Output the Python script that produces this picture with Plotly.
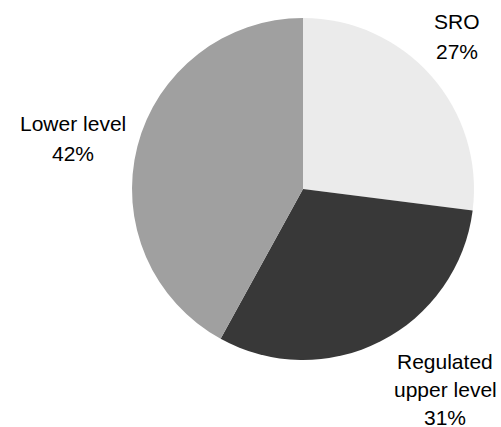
import plotly.graph_objects as go

categories = ["SRO", "Regulated upper level", "Lower level"]
values = [27, 31, 42]
colors = ["#ebebeb", "#383838", "#a0a0a0"]
label_lines = [["SRO"], ["Regulated", "upper level"], ["Lower level"]]
# label anchor (center x, first-line center y) in pixels
label_pos = [(457, 21), (445, 361), (73, 123)]
line_gap = [30, 28, 31]

W, H = 501, 427
cx, cy, r = 303, 189, 171

fig = go.Figure(go.Pie(
    labels=categories,
    values=values,
    sort=False,
    direction="clockwise",
    rotation=0,
    marker=dict(colors=colors, line=dict(width=0)),
    textinfo="none",
    hoverinfo="label+percent",
    showlegend=False,
    domain=dict(x=[(cx - r) / W, (cx + r) / W], y=[1 - (cy + r) / H, 1 - (cy - r) / H]),
))

total = sum(values)
for lines, v, (px, py), g in zip(label_lines, values, label_pos, line_gap):
    texts = lines + [f"{round(100 * v / total)}%"]
    for i, t in enumerate(texts):
        fig.add_annotation(
            x=px / W, y=1 - (py + i * g) / H, xref="paper", yref="paper",
            text=t, showarrow=False, xanchor="center", yanchor="middle",
            font=dict(family="Liberation Sans, Arial", size=21, color="#000000"),
        )

fig.update_layout(
    width=W, height=H,
    margin=dict(l=0, r=0, t=0, b=0),
    paper_bgcolor="white",
    plot_bgcolor="white",
)

fig.write_html("out.html")
